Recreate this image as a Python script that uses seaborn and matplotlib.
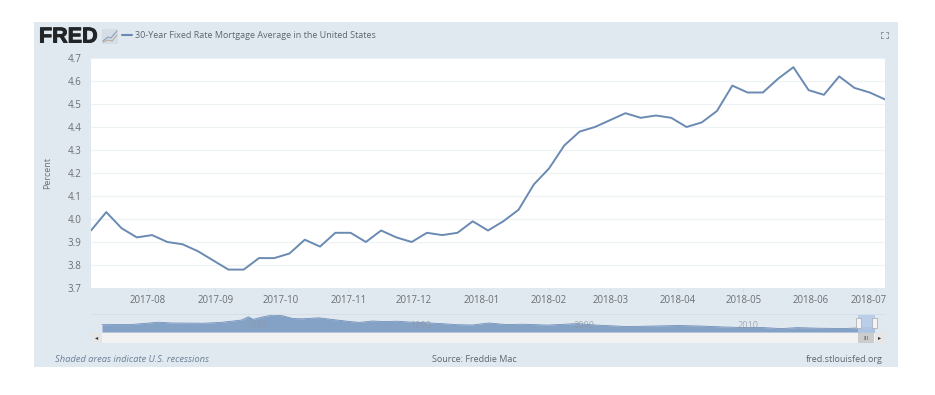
import matplotlib
matplotlib.use("Agg")
import matplotlib.pyplot as plt
import matplotlib.patheffects as pe
from matplotlib.patches import Rectangle
from matplotlib.lines import Line2D
from matplotlib.transforms import ScaledTranslation
import numpy as np
import pandas as pd
import seaborn as sns

# ---------- data ----------
start_week = "2017-07-06"
rates = [3.95, 4.03, 3.96, 3.92, 3.93, 3.90, 3.89, 3.86, 3.82, 3.78, 3.78, 3.83, 3.83,
         3.85, 3.91, 3.88, 3.94, 3.94, 3.90, 3.95, 3.92, 3.90, 3.94, 3.93, 3.94, 3.99,
         3.95, 3.99, 4.04, 4.15, 4.22, 4.32, 4.38, 4.40, 4.43, 4.46, 4.44, 4.45, 4.44,
         4.40, 4.42, 4.47, 4.58, 4.55, 4.55, 4.61, 4.66, 4.56, 4.54, 4.62, 4.57, 4.55, 4.52]
y_ticks = [3.7, 3.8, 3.9, 4.0, 4.1, 4.2, 4.3, 4.4, 4.5, 4.6, 4.7]
x_ticks = ["2017-08", "2017-09", "2017-10", "2017-11", "2017-12", "2018-01",
           "2018-02", "2018-03", "2018-04", "2018-05", "2018-06", "2018-07"]

nav_years = [1971.25, 1972, 1973, 1973.8, 1974.7, 1975.5, 1976.5, 1977.5, 1978.5, 1979.3,
             1979.8, 1980.2, 1980.5, 1981.0, 1981.7, 1982.3, 1982.9, 1983.5, 1984.5, 1985.5,
             1986.5, 1987.0, 1987.8, 1988.5, 1989.3, 1990.0, 1991.0, 1992.0, 1993.0, 1993.9,
             1994.9, 1996.0, 1997.0, 1998.5, 2000.3, 2001.5, 2003.4, 2004.5, 2006.5, 2008.0,
             2009.3, 2010.5, 2011.5, 2012.8, 2013.8, 2015.0, 2016.6, 2017.5, 2018.5]
nav_rates = [7.3, 7.4, 7.4, 8.5, 9.8, 9.0, 8.9, 8.8, 9.6, 11.0,
             12.0, 15.2, 12.6, 14.8, 17.0, 16.2, 13.5, 13.2, 14.2, 12.2,
             10.3, 9.6, 11.0, 10.4, 10.8, 10.0, 9.3, 8.4, 7.3, 7.0,
             9.0, 7.4, 7.8, 6.9, 8.4, 6.9, 5.4, 5.8, 6.5, 5.9,
             5.0, 4.5, 4.6, 3.4, 4.4, 3.8, 3.5, 4.0, 4.5]
nav_labels = ["1980", "1990", "2000", "2010"]
nav_label_years = [1980, 1990, 2000, 2010]

title = "30-Year Fixed Rate Mortgage Average in the United States"

# ---------- style ----------
PANEL = "#e1e9f0"
LINE = "#6a8ab2"
FILL = "#7f9dc4"
TEXT = "#6b6f72"
GRID = "#eff2f5"
W, H = 935, 395

sns.set_theme(style="white")
plt.rcParams["font.family"] = ["Open Sans", "DejaVu Sans"]


def box(x0, y0, x1, y1):
    """Convert a pixel box (top-left origin) into figure fractions."""
    return [x0 / W, 1 - y1 / H, (x1 - x0) / W, (y1 - y0) / H]


fig = plt.figure(figsize=(W / 100, H / 100), dpi=100, facecolor="white")
fig.patches.append(Rectangle((34 / W, 1 - 367 / H), 864 / W, 345 / H, transform=fig.transFigure,
                             facecolor=PANEL, edgecolor="none", zorder=-10))

# ---------- main chart ----------
df = pd.DataFrame({"date": pd.date_range(start_week, periods=len(rates), freq="7D"), "rate": rates})
ax = fig.add_axes(box(91, 58, 885, 288))
ax.set_facecolor("white")
sns.lineplot(data=df, x="date", y="rate", ax=ax, color=LINE, linewidth=1.4)
ax.set_xlim(df["date"].iloc[0], df["date"].iloc[-1])
ax.set_ylim(3.7, 4.7)
ax.set_yticks(y_ticks)
ax.set_yticklabels([f"{v:.1f}" for v in y_ticks])
ax.yaxis.grid(True, color=GRID, linewidth=0.9)
ax.set_axisbelow(True)
tick_dates = pd.to_datetime([t + "-01" for t in x_ticks])
ax.set_xticks(tick_dates)
ax.set_xticklabels(x_ticks)
for s in ax.spines.values():
    s.set_visible(False)
ax.tick_params(axis="y", length=0, pad=7, labelsize=7, labelcolor=TEXT)
ax.tick_params(axis="x", length=3, width=0.6, color="#d4dde6", pad=2, labelsize=6.9, labelcolor=TEXT, bottom=True)
last_label = ax.get_xticklabels()[-1]
last_label.set_transform(last_label.get_transform() + ScaledTranslation(-8 / 100, 0, fig.dpi_scale_trans))
ax.set_xlabel("")
ax.set_ylabel("")
fig.text(48 / W, 1 - 173 / H, "Percent", rotation=90, ha="center", va="center", fontsize=6.4, color=TEXT)

# ---------- header ----------
logo = fig.text(39 / W, 1 - 37 / H, "FRED", fontsize=15.5, fontweight="bold", family="Liberation Sans",
                color="#222528", ha="left", va="center")
logo.set_path_effects([pe.withStroke(linewidth=0.7, foreground="#222528")])
fig.patches.append(Rectangle((102 / W, 1 - 44 / H), 16 / W, 15 / H, transform=fig.transFigure,
                             facecolor="#d5dde6", edgecolor="none"))
fig.add_artist(Line2D([103 / W, 108 / W, 111 / W, 117 / W], [1 - 41 / H, 1 - 37 / H, 1 - 38 / H, 1 - 31 / H],
                      color="#8fa6c0", lw=0.9))
fig.add_artist(Line2D([103 / W, 108 / W, 112 / W, 117 / W], [1 - 42 / H, 1 - 40 / H, 1 - 41 / H, 1 - 35 / H],
                      color="#b9a98c", lw=0.7))
fig.add_artist(Line2D([122 / W, 132 / W], [1 - 35 / H, 1 - 35 / H], color=LINE, lw=1.5))
fig.text(135 / W, 1 - 35.5 / H, title, fontsize=6.45, color="#5d6670", ha="left", va="center")
# expand icon
for cx, cy, dx, dy in [(881, 32, 1, 1), (888, 32, -1, 1), (881, 38, 1, -1), (888, 38, -1, -1)]:
    fig.add_artist(Line2D([(cx + 2 * dx) / W, cx / W, cx / W],
                          [1 - cy / H, 1 - cy / H, 1 - (cy + 2 * dy) / H], color="#7b8794", lw=0.6))

# ---------- navigator ----------
nav = fig.add_axes(box(91, 313, 885, 332))
nav.patch.set_alpha(0)
years = np.array(nav_years)
values = np.array(nav_rates)
PX_PER_YEAR = 16.35
xmin, xmax = 1971.25 - 11 / PX_PER_YEAR, 1971.25 + 783 / PX_PER_YEAR
nav.fill_between(years, values, 0, color=FILL, linewidth=0, alpha=0.95)
sns.lineplot(x=years, y=values, ax=nav, color="#6f90ba", linewidth=0.6)
nav.set_xlim(xmin, xmax)
nav.set_ylim(0, 19)
nav.set_xticks([])
nav.set_yticks([])
nav.set_xlabel("")
nav.set_ylabel("")
for s in nav.spines.values():
    s.set_visible(False)
for yr, lab in zip(nav_label_years, nav_labels):
    nav.text(yr + 12 / PX_PER_YEAR, 6, lab, fontsize=6.6, color="#8f9aa8", ha="center", va="center", alpha=0.8)
# selected window: the last year of the data shown above
nav.axvspan(2017.5, 2018.5, ymax=17 / 19, color="#b4cae8", alpha=0.85, linewidth=0, zorder=3)
for xh in (2017.5, 2018.5):
    nav.add_patch(Rectangle((xh - 0.15, 4), 0.3, 10, facecolor="#f4f4f4", edgecolor="#a7a7a7",
                            linewidth=0.5, zorder=4))
fig.add_artist(Line2D([91 / W, 885 / W], [1 - 314 / H, 1 - 314 / H], color="#d6dfe7", lw=0.7))

# ---------- scrollbar ----------
for x0, x1, col in [(91, 885, "#f2f2f2"), (91, 102, "#e6e6e6"), (858, 874, "#cccccc"), (875, 885, "#e6e6e6")]:
    fig.patches.append(Rectangle((x0 / W, 1 - 343 / H), (x1 - x0) / W, 10 / H, transform=fig.transFigure,
                                 facecolor=col, edgecolor="none"))
fig.text(96.5 / W, 1 - 338 / H, "◂", fontsize=4.5, color="#333333", ha="center", va="center", family="DejaVu Sans")
fig.text(880 / W, 1 - 338 / H, "▸", fontsize=4.5, color="#333333", ha="center", va="center", family="DejaVu Sans")
fig.text(866 / W, 1 - 338 / H, "III", fontsize=4.5, color="#555555", ha="center", va="center")

# ---------- footer ----------
fig.text(55 / W, 1 - 360 / H, "Shaded areas indicate U.S. recessions", fontsize=6.75, style="italic",
         color="#6d8099", ha="left", va="center")
fig.text(474.5 / W, 1 - 360 / H, "Source: Freddie Mac", fontsize=6.5, color="#5d6670", ha="center", va="center")
fig.text(883 / W, 1 - 360 / H, "fred.stlouisfed.org", fontsize=6.5, color="#5d6670", ha="right", va="center")

fig.savefig("out.png", dpi=100, facecolor="white")
